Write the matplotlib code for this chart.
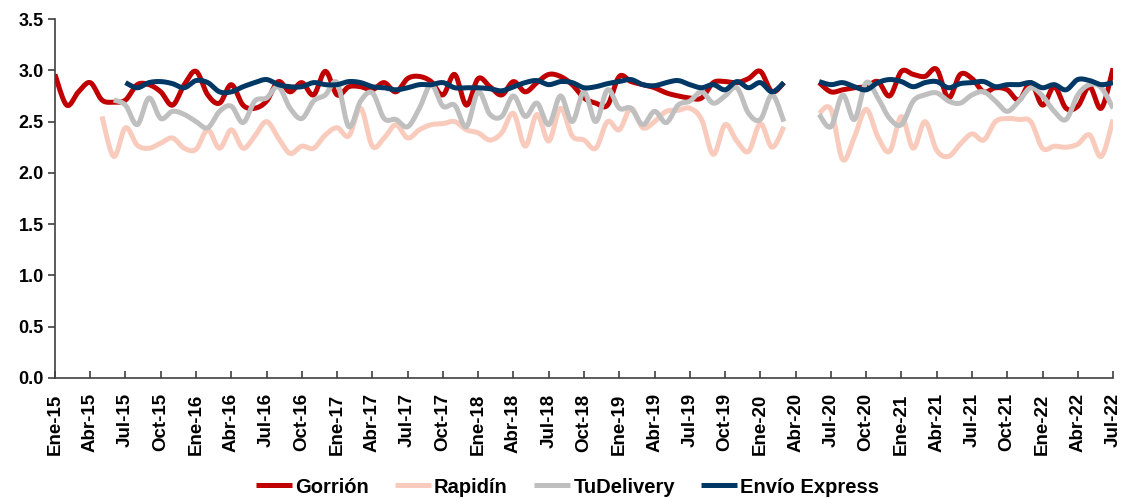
import numpy as np
import matplotlib.pyplot as plt

plt.rcParams['font.family'] = ['Liberation Sans', 'DejaVu Sans']
plt.rcParams['font.weight'] = 'bold'

nan = np.nan

# monthly values, Ene-15 .. Jul-22 (no data Abr-20, May-20)
meses = ['Ene', 'Feb', 'Mar', 'Abr', 'May', 'Jun', 'Jul', 'Ago', 'Sep', 'Oct', 'Nov', 'Dic']
n_months = 91
etiquetas = [f"{meses[i % 12]}-{15 + i // 12}" for i in range(n_months)]

gorrion = [2.96, 2.66, 2.79, 2.88, 2.71, 2.69, 2.71, 2.86, 2.86, 2.79, 2.66, 2.86, 2.99, 2.76, 2.68,
           2.86, 2.66, 2.63, 2.70, 2.89, 2.79, 2.88, 2.76, 2.99, 2.76, 2.84, 2.84, 2.81, 2.88, 2.79,
           2.92, 2.94, 2.89, 2.76, 2.96, 2.66, 2.92, 2.84, 2.76, 2.89, 2.79, 2.88, 2.96, 2.94, 2.86,
           2.73, 2.68, 2.66, 2.94, 2.89, 2.86, 2.83, 2.78, 2.75, 2.73, 2.73, 2.88, 2.89, 2.88, 2.92,
           2.99, 2.79, 2.88, nan, nan, 2.88, 2.79, 2.81, 2.83, 2.84, 2.89, 2.75, 2.99, 2.96, 2.94,
           3.01, 2.73, 2.96, 2.92, 2.79, 2.83, 2.81, 2.71, 2.88, 2.66, 2.84, 2.63, 2.65, 2.84, 2.63, 3.02]

rapidin = [nan] * 4 + [2.55, 2.16, 2.44, 2.27, 2.24, 2.29, 2.34, 2.24, 2.23, 2.42, 2.24,
           2.42, 2.24, 2.36, 2.50, 2.34, 2.19, 2.26, 2.24, 2.37, 2.44, 2.36, 2.63, 2.26, 2.34, 2.47,
           2.34, 2.42, 2.47, 2.48, 2.50, 2.42, 2.39, 2.32, 2.39, 2.58, 2.26, 2.57, 2.31, 2.63, 2.36,
           2.32, 2.24, 2.50, 2.42, 2.63, 2.44, 2.50, 2.60, 2.61, 2.63, 2.52, 2.18, 2.47, 2.31, 2.21,
           2.48, 2.25, 2.45, nan, nan, 2.58, 2.62, 2.13, 2.35, 2.62, 2.35, 2.21, 2.55, 2.24, 2.50,
           2.22, 2.16, 2.28, 2.38, 2.32, 2.50, 2.53, 2.52, 2.50, 2.24, 2.26, 2.25, 2.28, 2.37, 2.16, 2.52]

tudelivery = [nan] * 5 + [2.71, 2.66, 2.47, 2.73, 2.53, 2.60, 2.57, 2.50, 2.44, 2.60,
              2.65, 2.49, 2.70, 2.73, 2.84, 2.63, 2.53, 2.70, 2.76, 2.88, 2.45, 2.70, 2.78, 2.53, 2.52,
              2.45, 2.63, 2.86, 2.65, 2.66, 2.45, 2.79, 2.57, 2.55, 2.75, 2.55, 2.68, 2.47, 2.75, 2.50,
              2.79, 2.50, 2.81, 2.63, 2.63, 2.47, 2.60, 2.49, 2.66, 2.70, 2.79, 2.68, 2.75, 2.83, 2.58,
              2.52, 2.76, 2.50, nan, nan, 2.57, 2.45, 2.76, 2.52, 2.88, 2.73, 2.53, 2.47, 2.70, 2.76,
              2.78, 2.70, 2.68, 2.76, 2.79, 2.70, 2.60, 2.70, 2.83, 2.75, 2.60, 2.52, 2.76, 2.86, 2.83, 2.63]

envio = [nan] * 6 + [2.88, 2.83, 2.88, 2.89, 2.87, 2.83, 2.90, 2.88, 2.79,
         2.79, 2.84, 2.88, 2.91, 2.86, 2.84, 2.84, 2.88, 2.86, 2.86, 2.89, 2.88, 2.84, 2.83, 2.81,
         2.83, 2.86, 2.86, 2.88, 2.83, 2.83, 2.83, 2.82, 2.80, 2.84, 2.88, 2.90, 2.86, 2.89, 2.88,
         2.83, 2.84, 2.87, 2.89, 2.91, 2.86, 2.85, 2.88, 2.90, 2.86, 2.83, 2.86, 2.81, 2.89, 2.83,
         2.88, 2.79, 2.88, nan, nan, 2.89, 2.86, 2.88, 2.84, 2.81, 2.88, 2.91, 2.89, 2.84, 2.88,
         2.89, 2.83, 2.87, 2.88, 2.89, 2.84, 2.86, 2.86, 2.88, 2.83, 2.86, 2.81, 2.91, 2.90, 2.86, 2.88]

series = [('Gorrión', gorrion, '#C00000'),
          ('Rapidín', rapidin, '#F8CBBD'),
          ('TuDelivery', tudelivery, '#BFBFBF'),
          ('Envío Express', envio, '#003865')]


def smooth(x, y, k=12):
    # catmull-rom like Excel's "smoothed line", NaN breaks the line
    x = np.asarray(x, float)
    y = np.asarray(y, float)
    idx = np.where(~np.isnan(y))[0]
    runs = np.split(idx, np.where(np.diff(idx) > 1)[0] + 1)
    out_x, out_y = [], []
    t = np.linspace(0, 1, k, endpoint=False)[:, None]
    for r in runs:
        P = np.column_stack([x[r], y[r]])
        P = np.vstack([P[0], P, P[-1]])
        for i in range(1, len(P) - 2):
            p0, p1, p2, p3 = P[i - 1], P[i], P[i + 1], P[i + 2]
            pts = 0.5 * (2 * p1 + (p2 - p0) * t + (2 * p0 - 5 * p1 + 4 * p2 - p3) * t ** 2
                         + (-p0 + 3 * p1 - 3 * p2 + p3) * t ** 3)
            out_x.extend(pts[:, 0])
            out_y.extend(pts[:, 1])
        out_x.extend([P[-2, 0], nan])
        out_y.extend([P[-2, 1], nan])
    return out_x, out_y


fig = plt.figure(figsize=(11.26, 4.98), dpi=100)
ax = fig.add_axes([0.0488, 0.241, 0.9397, 0.7208])

x = np.arange(n_months)
for name, vals, color in series:
    sx, sy = smooth(x, vals)
    ax.plot(sx, sy, color=color, lw=3.6, label=name, solid_capstyle='butt')

ax.set_xlim(0, n_months - 1)
ax.set_ylim(0, 3.5)
ax.set_yticks(np.arange(0, 3.51, 0.5))
ax.set_yticklabels([f"{v:.1f}" for v in np.arange(0, 3.51, 0.5)], fontsize=13, fontweight='bold')
ax.set_xticks(x[::3])
ax.set_xticklabels(etiquetas[::3], rotation=90, fontsize=13.5, fontweight='bold')

for s in ['top', 'right']:
    ax.spines[s].set_visible(False)
for s in ['left', 'bottom']:
    ax.spines[s].set_color('#404040')
    ax.spines[s].set_linewidth(1.2)
ax.tick_params(axis='y', direction='out', length=5, width=1.2, color='#404040', pad=3)
ax.tick_params(axis='x', direction='in', length=5, width=1.2, color='#404040', pad=11)

fig.legend(loc='center', bbox_to_anchor=(0.504, 0.022), ncol=4, frameon=False,
           prop={'size': 14.5, 'weight': 'bold'}, handlelength=1.8, handletextpad=0.15,
           columnspacing=1.3)

fig.savefig('out.png', dpi=100)
